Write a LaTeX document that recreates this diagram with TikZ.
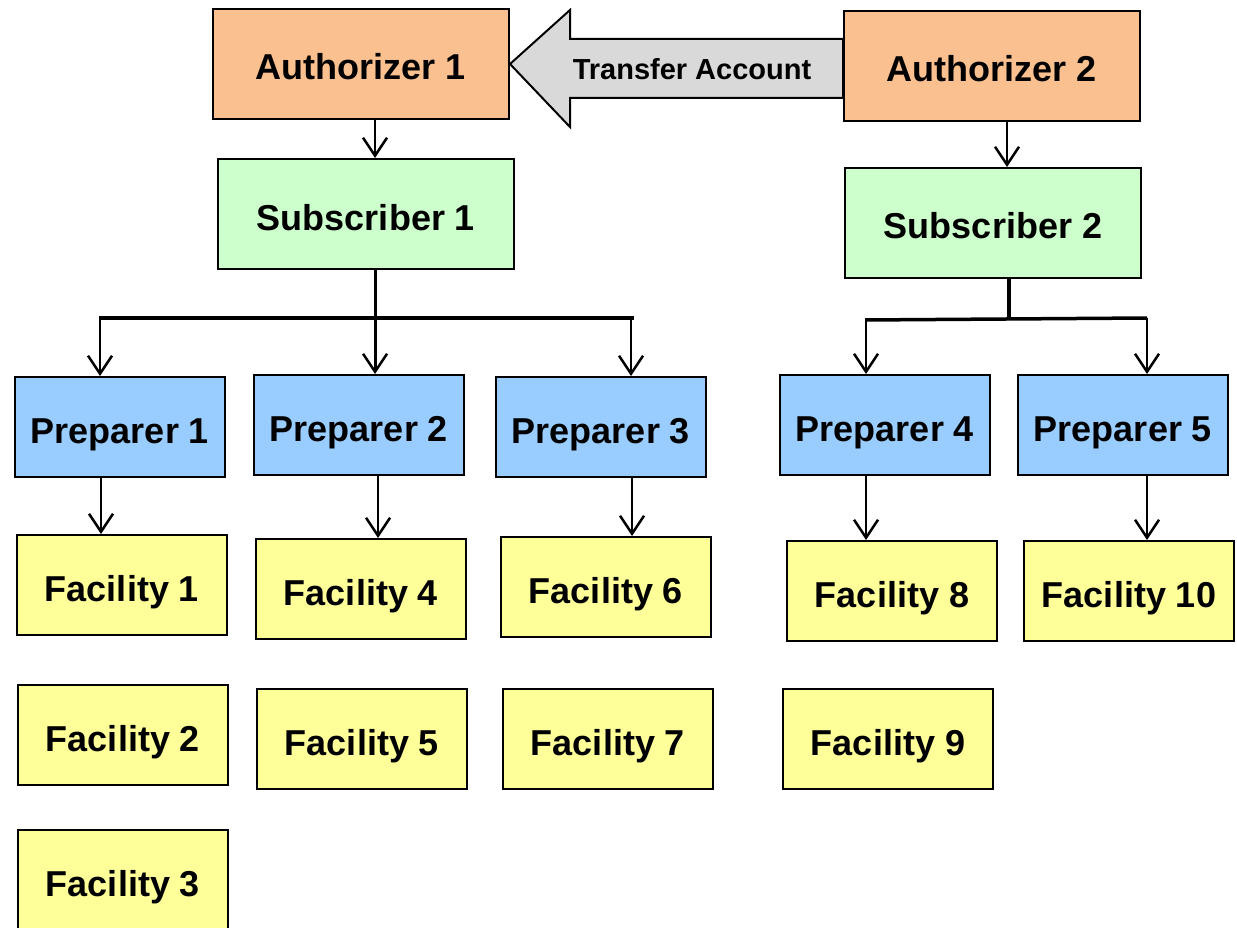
\documentclass[tikz,border=0pt]{standalone}
\usepackage{fontspec}
\setmainfont{Liberation Sans}
\usepackage{tikz}
\usetikzlibrary{shapes,arrows.meta}
\usetikzlibrary{positioning}
\definecolor{authcol}{RGB}{250,192,143}
\definecolor{subcol}{RGB}{204,255,204}
\definecolor{prepcol}{RGB}{153,204,255}
\definecolor{faccol}{RGB}{255,255,153}
\definecolor{transcol}{RGB}{217,217,217}
\tikzstyle{box} = [rectangle, draw, line width=2pt, inner sep=0pt,
    text height=32pt, text depth=0pt,
    font=\fontsize{36}{40}\selectfont\bfseries]
\tikzstyle{authorizer} = [box, fill=authcol, minimum width=296pt, minimum height=110pt]
\tikzstyle{subscriber} = [box, fill=subcol, minimum width=296pt, minimum height=110pt]
\tikzstyle{preparer} = [box, fill=prepcol, minimum width=210pt, minimum height=100pt]
\tikzstyle{facility} = [box, fill=faccol, minimum width=210pt, minimum height=100pt]
\tikzstyle{drop} = [line width=2.5pt, -{Straight Barb[length=18pt,width=24pt,line width=2.5pt]}]
\tikzstyle{bus} = [line width=3.5pt]

\begin{document}
\begin{tikzpicture}[x=1pt, y=-1pt, node distance=150pt]
  \useasboundingbox (0,0) rectangle (1237,928);
  % Place nodes
  \node [authorizer] at (361,64) (auth1) {Authorizer 1};
  \node [authorizer, right of=auth1, node distance=631pt, yshift=-2pt] (auth2) {Authorizer 2};
  \node [subscriber, below of=auth1, xshift=5pt] (sub1) {Subscriber 1};
  \node [subscriber, below of=auth2, node distance=157pt, xshift=1pt] (sub2) {Subscriber 2};
  \node [preparer, below of=sub1, node distance=211pt, xshift=-7pt] (prep2) {Preparer 2};
  \node [preparer, left of=prep2, node distance=239pt, yshift=-2pt] (prep1) {Preparer 1};
  \node [preparer, right of=prep2, node distance=242pt, yshift=-2pt] (prep3) {Preparer 3};
  \node [preparer, below of=sub2, node distance=202pt, xshift=-108pt] (prep4) {Preparer 4};
  \node [preparer, right of=prep4, node distance=238pt] (prep5) {Preparer 5};
  \node [facility, below of=prep1, node distance=158pt, xshift=2pt] (fac1) {Facility 1};
  \node [facility, below of=fac1, xshift=1pt] (fac2) {Facility 2};
  \node [facility, below of=fac2, node distance=145pt] (fac3) {Facility 3};
  \node [facility, below of=prep2, node distance=164pt, xshift=2pt] (fac4) {Facility 4};
  \node [facility, below of=fac4, xshift=1pt] (fac5) {Facility 5};
  \node [facility, below of=prep3, node distance=160pt, xshift=5pt] (fac6) {Facility 6};
  \node [facility, below of=fac6, node distance=152pt, xshift=2pt] (fac7) {Facility 7};
  \node [facility, below of=prep4, node distance=166pt, xshift=7pt] (fac8) {Facility 8};
  \node [facility, below of=fac8, node distance=148pt, xshift=-4pt] (fac9) {Facility 9};
  \node [facility, below of=prep5, node distance=166pt, xshift=6pt] (fac10) {Facility 10};
  % Transfer arrow
  \draw [line width=2pt, fill=transcol] (auth2.west |- 0,39) -- (570,39) -- (570,10)
    -- (auth1.east) -- (570,127) -- (570,98) -- (auth2.west |- 0,98) -- cycle;
  \node [font=\fontsize{29}{32}\selectfont\bfseries] at (692,69) (transfer) {Transfer Account};
  % Bus points
  \coordinate (b1) at (100,318);
  \coordinate (b3) at (631,318);
  \coordinate (b4) at (866,320);
  \coordinate (b5) at (1147,318);
  % Draw edges
  \draw [drop] ([xshift=14pt]auth1.south) -- ([xshift=9pt]sub1.north);
  \draw [drop] ([xshift=15pt]auth2.south) -- ([xshift=14pt]sub2.north);
  \draw [bus] ([xshift=-1pt]b1) -- ([xshift=3pt]b3);
  \draw [drop, line width=3pt] ([xshift=9pt]sub1.south) -- ([xshift=16pt]prep2.north);
  \draw [drop] (b1) -- (b1 |- prep1.north);
  \draw [drop] (b3) -- (b3 |- prep3.north);
  \draw [bus] ([xshift=16pt]sub2.south) -- ([xshift=16pt]sub2.south |- b4);
  \draw [bus] ([xshift=-1pt]b4) -- (b5);
  \draw [drop] (b4) -- (b4 |- prep4.north);
  \draw [drop] (b5) -- (b5 |- prep5.north);
  \draw [drop] ([xshift=-19pt]prep1.south) -- ([xshift=-21pt]fac1.north);
  \draw [drop] ([xshift=19pt]prep2.south) -- ([xshift=17pt]fac4.north);
  \draw [drop] ([xshift=31pt]prep3.south) -- ([xshift=26pt]fac6.north);
  \draw [drop] ([xshift=-19pt]prep4.south) -- ([xshift=-26pt]fac8.north);
  \draw [drop] ([xshift=24pt]prep5.south) -- ([xshift=18pt]fac10.north);
\end{tikzpicture}
\end{document}
